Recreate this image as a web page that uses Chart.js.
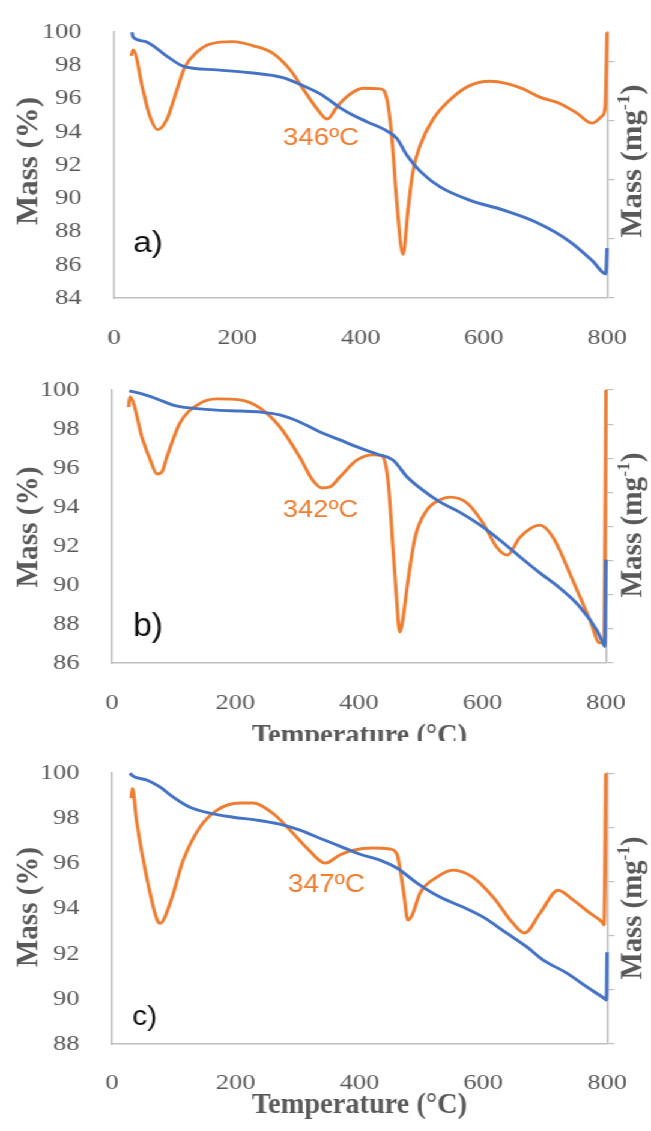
<!DOCTYPE html>
<html>
<head>
<meta charset="utf-8">
<title>TGA / DTG</title>
<script src="https://cdn.jsdelivr.net/npm/chart.js@4.4.0/dist/chart.umd.min.js"></script>
<style>
    html, body { margin: 0; padding: 0; background: #fff; }
    #page { position: relative; width: 651px; height: 1131px; overflow: hidden; }
    #stretch { position: absolute; left: 0; top: 0; width: 542px; height: 1131px; transform: scaleX(1.2011); transform-origin: 0 0; }
    .panel { position: absolute; left: 0; width: 542px; overflow: hidden; }
</style>
</head>
<body>
<div id="page">
  <div id="stretch">
    <div class="panel" style="top:0;height:355px"><canvas id="chartA"></canvas></div>
    <div class="panel" style="top:355px;height:386px"><canvas id="chartB"></canvas></div>
    <div class="panel" style="top:741px;height:390px"><canvas id="chartC"></canvas></div>
  </div>
</div>
<script>
// Axis ticks
const xTicks = [0, 200, 400, 600, 800];
const yTicksA = [84, 86, 88, 90, 92, 94, 96, 98, 100];
const yTicksB = [86, 88, 90, 92, 94, 96, 98, 100];
const yTicksC = [88, 90, 92, 94, 96, 98, 100];
const rTicksA = [0, 1, 2, 3, 4];
const rTicksB = [0, 1, 2, 3, 4, 5, 6, 7, 8];
const rTicksC = [0, 1, 2, 3, 4, 5];

// a) mass loss (%) and DTG (right axis, arbitrary units)
const massTempA = [29, 31, 50, 86, 112, 167, 221, 274, 302, 334, 367, 388, 411, 443, 459, 475, 497, 529, 578, 631, 686, 740, 777, 798, 800];
const massA = [100.0, 99.7, 99.45, 98.55, 97.96, 97.73, 97.56, 97.27, 96.86, 96.3, 95.45, 95.0, 94.6, 94.05, 93.6, 92.61, 91.62, 90.69, 89.88, 89.3, 88.54, 87.38, 86.21, 85.45, 87.0];
const dtgTempA = [28, 31, 47, 58, 71, 86, 102, 115, 135, 156, 193, 226, 258, 286, 307, 329, 346, 362, 383, 404, 432, 443, 451, 459, 469, 477, 485, 497, 518, 550, 578, 610, 638, 664, 691, 724, 751, 776, 792, 797, 800];
const dtgA = [4.1, 4.2, 3.52, 3.08, 2.85, 3.03, 3.52, 3.91, 4.17, 4.3, 4.34, 4.27, 4.14, 3.86, 3.54, 3.21, 3.03, 3.24, 3.45, 3.55, 3.54, 3.36, 2.7, 1.6, 0.74, 1.49, 2.14, 2.59, 3.03, 3.4, 3.6, 3.67, 3.63, 3.54, 3.4, 3.29, 3.13, 2.96, 3.08, 3.24, 4.5];

// b)
const massTempB = [28, 50, 73, 99, 126, 170, 207, 240, 272, 304, 337, 369, 401, 429, 455, 478, 499, 531, 563, 596, 628, 661, 693, 725, 758, 785, 795, 798, 800];
const massB = [99.95, 99.79, 99.54, 99.23, 99.08, 98.97, 98.92, 98.87, 98.72, 98.36, 97.85, 97.44, 97.03, 96.72, 96.41, 95.54, 94.97, 94.26, 93.74, 93.08, 92.31, 91.44, 90.62, 89.85, 88.87, 87.69, 87.03, 86.85, 91.3];
const dtgTempB = [27, 29, 50, 62, 73, 81, 89, 110, 138, 170, 207, 240, 272, 304, 325, 340, 353, 369, 397, 423, 437, 447, 455, 461, 466, 471, 478, 491, 510, 531, 547, 575, 601, 623, 640, 661, 693, 714, 746, 774, 790, 797, 800];
const dtgB = [7.5, 7.8, 6.53, 5.95, 5.54, 5.6, 6.04, 7.03, 7.56, 7.74, 7.71, 7.47, 6.92, 6.04, 5.36, 5.13, 5.16, 5.45, 5.95, 6.1, 6.07, 5.36, 3.4, 1.85, 0.91, 1.26, 2.23, 3.69, 4.48, 4.78, 4.86, 4.69, 4.1, 3.4, 3.16, 3.69, 4.04, 3.69, 2.43, 1.26, 0.59, 0.67, 8.0];

// c)
const massTempC = [29, 34, 57, 78, 99, 126, 158, 196, 234, 271, 304, 336, 368, 401, 433, 461, 493, 530, 567, 600, 638, 671, 697, 735, 768, 797, 799, 800];
const massC = [100.0, 99.87, 99.69, 99.38, 98.94, 98.49, 98.23, 98.05, 97.92, 97.74, 97.48, 97.12, 96.77, 96.41, 96.15, 95.79, 95.13, 94.51, 94.07, 93.62, 92.91, 92.29, 91.72, 91.14, 90.52, 89.99, 89.95, 92.07];
const dtgTempC = [31, 33, 40, 57, 73, 78, 94, 115, 142, 170, 207, 228, 260, 288, 315, 345, 368, 390, 422, 449, 461, 465, 472, 478, 485, 498, 525, 551, 583, 616, 648, 667, 692, 721, 745, 772, 792, 795, 798];
const dtgC = [4.54, 4.72, 4.1, 3.03, 2.29, 2.23, 2.6, 3.39, 4.0, 4.32, 4.45, 4.45, 4.26, 3.95, 3.62, 3.34, 3.49, 3.58, 3.62, 3.6, 3.49, 3.27, 2.75, 2.29, 2.38, 2.79, 3.08, 3.21, 3.08, 2.71, 2.23, 2.05, 2.42, 2.84, 2.66, 2.42, 2.25, 2.2, 5.0];

const BLUE = '#4472C4';
const ORANGE = '#ED7D31';
const AXIS = '#bfbfbf';
const LABEL = '#595959';
const S = 651 / 542; // horizontal stretch of the figure

function toPoints(xs, ys) {
    return xs.map((x, i) => ({ x: x, y: ys[i] }));
}

// text drawn horizontally, centred on cx (page px), baseline y, squeezed to width w
function horiz(c, text, font, color, cx, y, w) {
    c.save();
    c.translate(cx / S, y);
    c.scale(1 / S, 1);
    c.font = font;
    c.fillStyle = color;
    const m = c.measureText(text).width;
    c.scale(w / m, 1);
    c.textAlign = 'center';
    c.textBaseline = 'alphabetic';
    c.fillText(text, 0, 0);
    c.restore();
}

// text rotated to read bottom-to-top, baseline at bx (page px), centred on cy
function vert(c, parts, color, bx, cy, len) {
    c.save();
    c.translate(bx / S, cy);
    c.scale(1 / S, 1);
    c.rotate(-Math.PI / 2);
    let total = 0;
    parts.forEach(p => { c.font = p.font; p.w = c.measureText(p.text).width; total += p.w; });
    c.scale(len / total, 1);
    c.fillStyle = color;
    c.textAlign = 'left';
    c.textBaseline = 'alphabetic';
    let x = -total / 2;
    parts.forEach(p => { c.font = p.font; c.fillText(p.text, x, p.dy || 0); x += p.w; });
    c.restore();
}

function textPlugin(p) {
    return {
        id: 'panelText',
        afterDraw(chart) {
            const c = chart.ctx;
            const t = p.top;
            const bold = '"Liberation Serif", "Times New Roman", serif';
            vert(c, [{ text: 'Mass (%)', font: 'bold 30px ' + bold }], LABEL, 37, p.left.cy - t, p.left.len);
            vert(c, [
                { text: 'Mass (mg', font: 'bold 30px ' + bold },
                { text: '-1', font: 'bold 18px ' + bold, dy: -12 },
                { text: ')', font: 'bold 30px ' + bold }
            ], LABEL, 641, p.right.cy - t, p.right.len);
            if (p.xTitle) {
                horiz(c, 'Temperature (°C)', 'bold 30px ' + bold, LABEL, 359.5, p.xTitle.y - t, 215);
            }
            horiz(c, p.note.text, p.note.size + 'px "Liberation Sans", Arial, sans-serif', ORANGE, p.note.x, p.note.y - t, p.note.w);
            horiz(c, p.letter.text, p.letter.size + 'px "Liberation Sans", Arial, sans-serif', '#111', p.letter.x, p.letter.y - t, p.letter.w);
        }
    };
}

function buildChart(id, p) {
    const ctx = document.getElementById(id).getContext('2d');
    return new Chart(ctx, {
        type: 'line',
        data: {
            datasets: [{
                label: 'Mass (%)',
                data: toPoints(p.massT, p.mass),
                yAxisID: 'y',
                borderColor: BLUE,
                borderWidth: 2.9,
                pointRadius: 0,
                cubicInterpolationMode: 'monotone',
                clip: 4
            }, {
                label: 'DTG',
                data: toPoints(p.dtgT, p.dtg),
                yAxisID: 'y2',
                borderColor: ORANGE,
                borderWidth: 2.9,
                pointRadius: 0,
                cubicInterpolationMode: 'monotone',
                clip: 4
            }]
        },
        options: {
            responsive: true,
            maintainAspectRatio: false,
            animation: false,
            events: [],
            layout: { padding: { top: p.padTop, left: 0, right: 0, bottom: 0 } },
            plugins: {
                legend: { display: false },
                tooltip: { enabled: false }
            },
            scales: {
                x: {
                    type: 'linear',
                    min: 0,
                    max: 800,
                    afterBuildTicks: s => { s.ticks = xTicks.map(v => ({ value: v })); },
                    afterFit: s => { s.height = p.xH; },
                    grid: { display: false },
                    border: { display: true, color: AXIS, width: 1.6 },
                    ticks: {
                        autoSkip: false,
                        maxRotation: 0,
                        padding: p.xPad,
                        color: LABEL,
                        font: { family: '"Liberation Serif", "Times New Roman", serif', size: 22 }
                    }
                },
                y: {
                    position: 'left',
                    min: p.yTicks[0],
                    max: 100,
                    afterBuildTicks: s => { s.ticks = p.yTicks.map(v => ({ value: v })); },
                    afterFit: s => { s.width = p.yW; },
                    grid: { display: false },
                    border: { display: true, color: AXIS, width: 1.6 },
                    ticks: {
                        autoSkip: false,
                        padding: 19,
                        color: LABEL,
                        font: { family: '"Liberation Serif", "Times New Roman", serif', size: 22 }
                    }
                },
                y2: {
                    position: 'right',
                    min: 0,
                    max: p.rMax,
                    afterBuildTicks: s => { s.ticks = p.rTicks.map(v => ({ value: v })); },
                    afterFit: s => { s.width = p.rW; },
                    grid: { display: true, drawOnChartArea: false, drawTicks: true, tickLength: 6, color: AXIS, lineWidth: 1.2 },
                    border: { display: true, color: AXIS, width: 1.6 },
                    ticks: { display: false }
                }
            }
        },
        plugins: [textPlugin(p)]
    });
}

document.addEventListener('DOMContentLoaded', function() {
    buildChart('chartA', {
        top: 0, padTop: 23, xH: 57, xPad: 19, yW: 94.9, rW: 36.6, rMax: 4.5,
        yTicks: yTicksA, rTicks: rTicksA,
        massT: massTempA, mass: massA, dtgT: dtgTempA, dtg: dtgA,
        left: { cy: 161, len: 128 }, right: { cy: 161, len: 153 },
        note: { text: '346ºC', size: 24, x: 321, y: 145, w: 76 },
        letter: { text: 'a)', size: 30, x: 148, y: 252, w: 30 }
    });
    buildChart('chartB', {
        top: 355, padTop: 35, xH: 78, xPad: 19, yW: 93.2, rW: 37.5, rMax: 8,
        yTicks: yTicksB, rTicks: rTicksB,
        massT: massTempB, mass: massB, dtgT: dtgTempB, dtg: dtgB,
        left: { cy: 527, len: 121 }, right: { cy: 525, len: 145 },
        xTitle: { y: 744 },
        note: { text: '342ºC', size: 24, x: 320.5, y: 517, w: 75 },
        letter: { text: 'b)', size: 33, x: 148, y: 636, w: 30 }
    });
    buildChart('chartC', {
        top: 741, padTop: 32, xH: 87, xPad: 18, yW: 93.2, rW: 36.6, rMax: 5,
        yTicks: yTicksC, rTicks: rTicksC,
        massT: massTempC, mass: massC, dtgT: dtgTempC, dtg: dtgC,
        left: { cy: 907, len: 120 }, right: { cy: 908, len: 143 },
        xTitle: { y: 1113 },
        note: { text: '347ºC', size: 25, x: 326.5, y: 892, w: 77 },
        letter: { text: 'c)', size: 27, x: 144.5, y: 1025, w: 25 }
    });
});
</script>
</body>
</html>
